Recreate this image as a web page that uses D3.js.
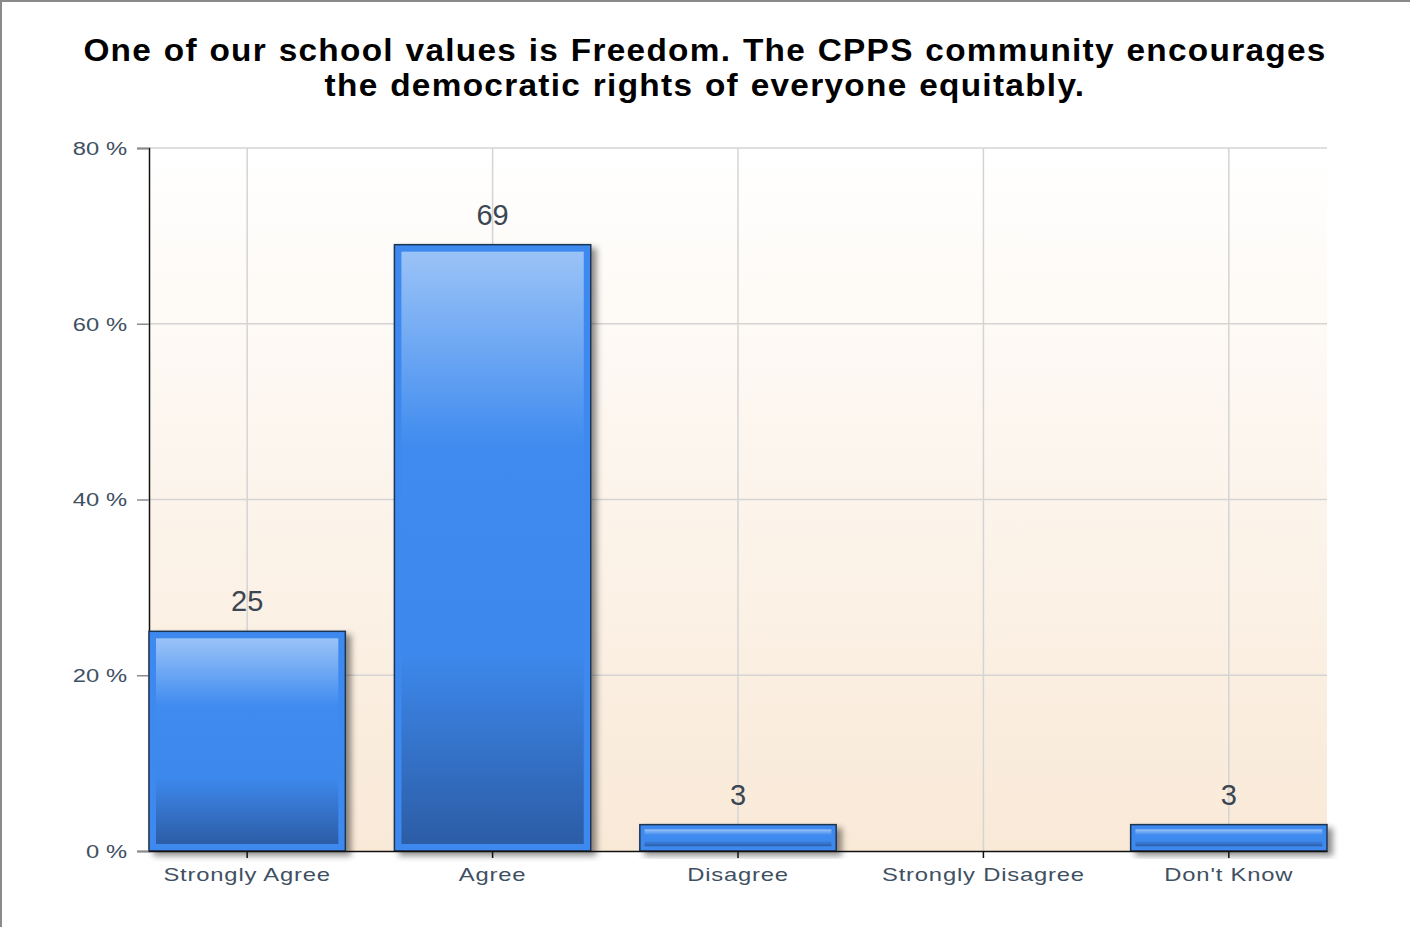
<!DOCTYPE html>
<html><head><meta charset="utf-8">
<script src="https://cdn.jsdelivr.net/npm/d3@7"></script>
<style>html,body{margin:0;padding:0;background:#fff;overflow:hidden}</style>
</head><body>
<svg id="chart" width="1410" height="927"></svg>
<script>
const categories = ["Strongly Agree", "Agree", "Disagree", "Strongly Disagree", "Don't Know"];
const values = [25, 69, 3, 0, 3];
const yTicks = [0, 20, 40, 60, 80];
const titleLines = ["One of our school values is Freedom. The CPPS community encourages",
                    "the democratic rights of everyone equitably."];

const svg = d3.select("#chart");
const FONT = "Liberation Sans, Arial, sans-serif";
const margin = {left: 149, right: 1327, top: 148, bottom: 851};
const x = d3.scaleBand().domain(categories).range([margin.left, margin.right]).paddingInner(0.2).paddingOuter(0);
const y = d3.scaleLinear().domain([0, 80]).range([margin.bottom, margin.top]);

const defs = svg.append("defs");
const bg = defs.append("linearGradient").attr("id","bg").attr("x1",0).attr("y1",0).attr("x2",0).attr("y2",1);
bg.append("stop").attr("offset",0).attr("stop-color","#ffffff");
bg.append("stop").attr("offset",1).attr("stop-color","#f9e9d7");
const bar = defs.append("linearGradient").attr("id","barg").attr("x1",0).attr("y1",0).attr("x2",0).attr("y2",1);
[[0,"#9ac3f7"],[0.33,"#3f8bef"],[0.68,"#3d88ec"],[1,"#2c5da6"]].forEach(s=>bar.append("stop").attr("offset",s[0]).attr("stop-color",s[1]));
const f = defs.append("filter").attr("id","sh").attr("x","-10%").attr("y","-10%").attr("width","130%").attr("height","140%");
f.append("feDropShadow").attr("dx",5).attr("dy",4).attr("stdDeviation",3).attr("flood-color","#000").attr("flood-opacity",0.45);

// frame
svg.append("rect").attr("x",1).attr("y",1).attr("width",1430).attr("height",950).attr("fill","none").attr("stroke","#8a8a8a").attr("stroke-width",2);

// plot background
svg.append("rect").attr("x",margin.left).attr("y",margin.top).attr("width",margin.right-margin.left).attr("height",margin.bottom-margin.top).attr("fill","url(#bg)");

// grid
const g = svg.append("g");
g.selectAll(".hg").data(yTicks.filter(d=>d>0)).join("line")
 .attr("x1",margin.left).attr("x2",margin.right).attr("y1",d=>y(d)).attr("y2",d=>y(d))
 .attr("stroke","#d4d4d4").attr("stroke-width",1.5);
g.selectAll(".vg").data(categories).join("line")
 .attr("x1",d=>x(d)+x.bandwidth()/2).attr("x2",d=>x(d)+x.bandwidth()/2).attr("y1",margin.top).attr("y2",margin.bottom)
 .attr("stroke","#d4d4d4").attr("stroke-width",1.5);

// y axis
const ya = svg.append("g").attr("transform",`translate(${margin.left},0)`)
 .call(d3.axisLeft(y).tickValues(yTicks).tickSize(12).tickPadding(10).tickFormat(d=>d+" %"));
ya.select(".domain").attr("stroke","#111").attr("stroke-width",1.5);
ya.selectAll(".tick line").attr("stroke","#8c8c8c").attr("stroke-width",1.5);
const ySX = 1.32;
ya.selectAll(".tick text").attr("font-family",FONT).attr("font-size",18).attr("fill","#3e5062").attr("dy","0.36em")
  .attr("x", -22/ySX).attr("transform",`scale(${ySX},1)`);

// bars
const bars = svg.append("g").selectAll("g").data(categories.map((c,i)=>({c,v:values[i]})).filter(d=>d.v>0)).join("g");
const inset = d => Math.min(7, (y(0)-y(d.v))*0.18);
bars.append("rect").attr("x",d=>x(d.c)).attr("y",d=>y(d.v)).attr("width",x.bandwidth()).attr("height",d=>y(0)-y(d.v))
 .attr("fill","#3d89ef").attr("stroke","#1f3552").attr("stroke-width",1.5).attr("filter","url(#sh)");
bars.append("rect")
 .attr("x",d=>x(d.c)+inset(d))
 .attr("y",d=>y(d.v)+inset(d))
 .attr("width",d=>x.bandwidth()-2*inset(d))
 .attr("height",d=>y(0)-y(d.v)-2*inset(d))
 .attr("fill","url(#barg)");

// x axis
const xa = svg.append("g").attr("transform",`translate(0,${margin.bottom})`)
 .call(d3.axisBottom(x).tickSize(7).tickPadding(11).tickSizeOuter(0));
xa.select(".domain").attr("stroke","#111").attr("stroke-width",1.5);
xa.selectAll(".tick line").attr("stroke","#111").attr("stroke-width",1.5);
const xSX = 1.36;
xa.selectAll(".tick text").attr("font-family",FONT).attr("font-size",17.5).attr("fill","#3e5062")
  .attr("letter-spacing",0.6).attr("transform",`scale(${xSX},1)`);

// value labels
svg.append("g").selectAll("text").data(categories.map((c,i)=>({c,v:values[i]})).filter(d=>d.v>0)).join("text")
 .attr("x",d=>x(d.c)+x.bandwidth()/2).attr("y",d=>y(d.v)-20).attr("text-anchor","middle")
 .attr("font-family",FONT).attr("font-size",29).attr("fill","#3b4652").text(d=>d.v);

// title
const tl = svg.append("g");
const targets = [1244, 761];
titleLines.forEach((t,i)=>{
  const el = tl.append("text").attr("x",0).attr("y",0).attr("text-anchor","middle")
   .attr("font-family",FONT).attr("font-weight","bold").attr("font-size",31).attr("fill","#000")
   .attr("letter-spacing",1.2).attr("word-spacing",1).text(t);
  const w = el.node().getComputedTextLength();
  el.attr("transform",`translate(705,${61+i*35}) scale(${targets[i]/w},1)`);
});
</script>
</body></html>
